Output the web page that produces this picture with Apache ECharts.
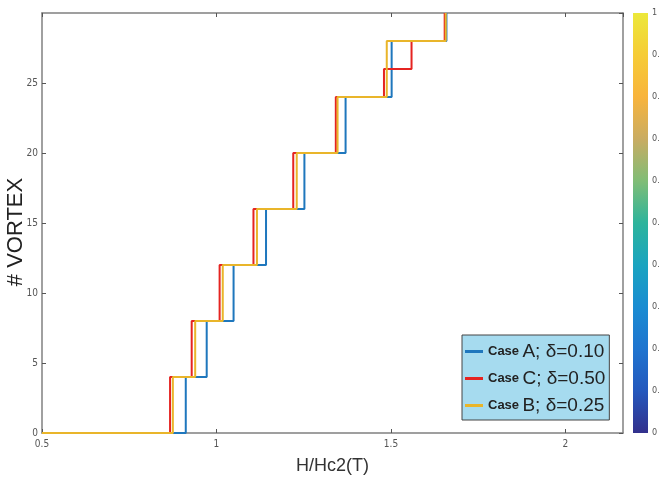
<!DOCTYPE html>
<html>
<head>
<meta charset="utf-8">
<script src="https://cdn.jsdelivr.net/npm/echarts@6/dist/echarts.min.js"></script>
<style>html,body{margin:0;padding:0;background:#fff;}#c{width:659px;height:481px;}</style>
</head>
<body>
<div id="c"></div>
<script>
// ---- data ----
var seriesNames = ['Case A; δ=0.10', 'Case C; δ=0.50', 'Case B; δ=0.25'];
var caseA_x = [0.5, 0.912, 0.972, 1.049, 1.142, 1.252, 1.370, 1.502, 1.659];
var caseA_y = [0, 4, 8, 12, 16, 20, 24, 28, 30];
var caseC_x = [0.5, 0.867, 0.929, 1.009, 1.106, 1.220, 1.342, 1.480, 1.559, 1.654];
var caseC_y = [0, 4, 8, 12, 16, 20, 24, 26, 28, 30];
var caseB_x = [0.5, 0.875, 0.939, 1.018, 1.116, 1.230, 1.347, 1.488, 1.657];
var caseB_y = [0, 4, 8, 12, 16, 20, 24, 28, 30];
var colorbarStops = [0, 0.1, 0.2, 0.3, 0.4, 0.5, 0.6, 0.7, 0.8, 0.9, 1];
var colorbarColors = ['#33308c', '#2458bd', '#1f74cf', '#1a8cd2', '#1aa4c0', '#2db49c', '#80bd76', '#c9ac62', '#f8b43c', '#f6cc36', '#ece83a'];

function pairs(xs, ys) { return xs.map(function (x, i) { return [x, ys[i]]; }); }

var chart = echarts.init(document.getElementById('c'), null, {renderer: 'canvas'});
var axisGray = '#808080';
var lblFont = "'Liberation Sans Narrow','DejaVu Sans Condensed',sans-serif";

var gradient = new echarts.graphic.LinearGradient(0, 1, 0, 0,
  colorbarStops.map(function (s, i) { return {offset: s, color: colorbarColors[i]}; }));

var option = {
  animation: false,
  backgroundColor: '#ffffff',
  grid: [
    {left: 42, right: 36, top: 13, bottom: 48, containLabel: false, outerBoundsMode: 'none'},
    {left: 633, right: 11, top: 13, bottom: 48, containLabel: false, outerBoundsMode: 'none'}
  ],
  legend: {
    data: seriesNames,
    orient: 'vertical',
    left: 462, top: 335,
    padding: [7, 4, 5, 3],
    itemGap: 8,
    itemWidth: 18, itemHeight: 3,
    icon: 'rect',
    backgroundColor: '#a6dbef',
    borderColor: '#444',
    borderWidth: 1,
    borderRadius: 0,
    formatter: function (name) {
      var rest = name.replace('Case ', '');
      return '{b|Case} {n|' + rest + '}';
    },
    textStyle: {
      color: '#222',
      rich: {
        b: {fontFamily: "'Liberation Sans',sans-serif", fontWeight: 'bold', fontSize: 13, lineHeight: 22, color: '#222'},
        n: {fontFamily: "'Liberation Sans',sans-serif", fontSize: 19, lineHeight: 22, color: '#222'}
      }
    }
  },
  xAxis: [
    {
      gridIndex: 0, type: 'value', position: 'bottom',
      min: 0.5, max: 2.165, interval: 0.5,
      name: 'H/Hc2(T)', nameLocation: 'middle', nameGap: 24, nameMoveOverlap: false,
      nameTextStyle: {fontFamily: "'Liberation Sans',sans-serif", fontSize: 18, color: '#333'},
      axisLine: {onZero: false, lineStyle: {color: axisGray, width: 1.5}},
      axisTick: {inside: true, length: 4, lineStyle: {color: '#555'}},
      axisLabel: {color: '#555', fontFamily: lblFont, fontSize: 10, margin: 6, showMaxLabel: false},
      splitLine: {show: false}
    },
    {
      gridIndex: 0, type: 'value', position: 'top',
      min: 0.5, max: 2.165, interval: 0.5,
      axisLine: {onZero: false, lineStyle: {color: axisGray, width: 1.5}},
      axisTick: {inside: true, length: 4, lineStyle: {color: '#555'}},
      axisLabel: {show: false},
      splitLine: {show: false}
    },
    {
      gridIndex: 1, type: 'category', data: ['c'], show: false
    }
  ],
  yAxis: [
    {
      gridIndex: 0, type: 'value', position: 'left',
      min: 0, max: 30, interval: 5,
      name: '# VORTEX', nameLocation: 'middle', nameGap: 15, nameMoveOverlap: false,
      nameTextStyle: {fontFamily: "'Liberation Sans',sans-serif", fontSize: 22, color: '#222', padding: [0, 18, 0, 0]},
      axisLine: {onZero: false, lineStyle: {color: axisGray, width: 1.5}},
      axisTick: {inside: true, length: 4, lineStyle: {color: '#555'}},
      axisLabel: {color: '#555', fontFamily: lblFont, fontSize: 10, margin: 4, showMaxLabel: false},
      splitLine: {show: false}
    },
    {
      gridIndex: 0, type: 'value', position: 'right',
      min: 0, max: 30, interval: 5,
      axisLine: {onZero: false, lineStyle: {color: axisGray, width: 1.5}},
      axisTick: {inside: true, length: 4, lineStyle: {color: '#555'}},
      axisLabel: {show: false},
      splitLine: {show: false}
    },
    {
      gridIndex: 1, type: 'value', position: 'right',
      min: 0, max: 1, interval: 0.1,
      axisLine: {show: false},
      axisTick: {inside: true, length: 3, lineStyle: {color: '#333'}},
      axisLabel: {color: '#555', fontFamily: lblFont, fontSize: 9, margin: 4},
      splitLine: {show: false}
    }
  ],
  series: [
    {
      name: seriesNames[0], type: 'line', step: 'end', xAxisIndex: 0, yAxisIndex: 0,
      data: pairs(caseA_x, caseA_y), symbol: 'none',
      lineStyle: {color: '#1f77bd', width: 2}, itemStyle: {color: '#1f77bd'}
    },
    {
      name: seriesNames[1], type: 'line', step: 'end', xAxisIndex: 0, yAxisIndex: 0,
      data: pairs(caseC_x, caseC_y), symbol: 'none',
      lineStyle: {color: '#e52421', width: 2}, itemStyle: {color: '#e52421'}
    },
    {
      name: seriesNames[2], type: 'line', step: 'end', xAxisIndex: 0, yAxisIndex: 0,
      data: pairs(caseB_x, caseB_y), symbol: 'none',
      lineStyle: {color: '#e9b52a', width: 2}, itemStyle: {color: '#e9b52a'}
    },
    {
      name: 'colorbar', type: 'bar', xAxisIndex: 2, yAxisIndex: 2,
      data: [1], barWidth: '100%', silent: true,
      itemStyle: {color: gradient}
    }
  ]
};
chart.setOption(option);
</script>
</body>
</html>
